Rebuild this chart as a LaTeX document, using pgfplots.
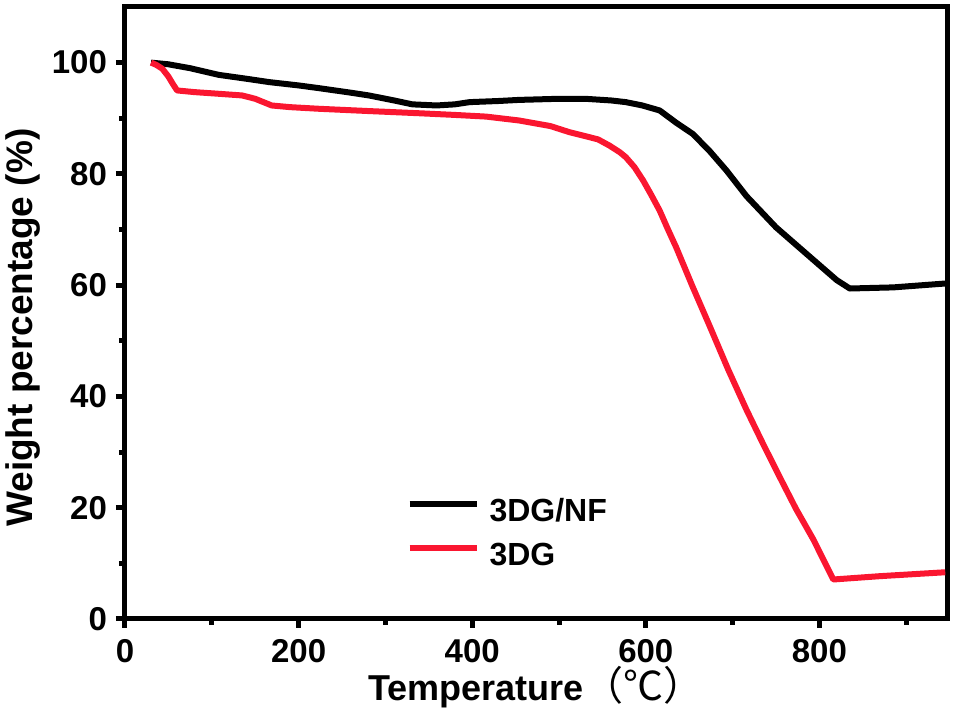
\documentclass[border=0pt]{standalone}
\usepackage{pgfplots}
\pgfplotsset{compat=1.18}
\usepackage{fontspec}
\setmainfont{Liberation Sans}
\newfontfamily\cjk{Noto Sans CJK SC}
\definecolor{myred}{RGB}{250,22,48}
\begin{document}
\begin{tikzpicture}
\begin{axis}[
  scale only axis,
  width=411pt, height=306pt,
  xmin=0, xmax=947, ymin=0, ymax=110,
  xtick={0,200,...,800}, ytick={0,20,...,100},
  minor xtick={100,300,...,900}, minor ytick={10,30,...,90},
  tick pos=left,
  tick align=outside,
  major tick length=4.5pt, minor tick length=3pt,
  every tick/.style={line width=2.5pt, black},
  axis line style={line width=2.5pt},
  /pgf/number format/assume math mode=true,
  ticklabel style={font=\fontsize{16.5}{18}\selectfont\bfseries},
  xticklabel style={yshift=-2pt},
  yticklabel style={xshift=-1pt},
  xlabel={{\fontsize{18}{20}\selectfont\bfseries Temperature}{\cjk\fontsize{20}{20}\selectfont （℃）}},
  ylabel={\textbf{Weight percentage (\%)}},
  ylabel style={font=\fontsize{18.5}{20}\selectfont},
  xlabel style={at={(rel axis cs:0.5,0)}, anchor=base, yshift=-41pt},
  ylabel style={at={(rel axis cs:0,0.476)}, anchor=base, yshift=46pt},
  legend style={draw=none, fill=none, at={(axis cs:317,22.6)}, anchor=north west,
    font=\fontsize{16}{18}\selectfont\bfseries,
    nodes={inner sep=0pt, text height=12pt, text depth=3pt},
    row sep=7pt, column sep=5pt},
  legend cell align=left,
  legend image code/.code={\draw[#1] (0pt,4.5pt) -- (33.5pt,4.5pt);},
  clip=false,
]
\addplot[black, line width=3pt, line join=round] coordinates {
(30,100) (50,99.7) (75,99.0) (108,97.8) (140,97.1) (166,96.5) (200,95.9) (224,95.4)
(260,94.6) (281,94.1) (310,93.2) (331,92.5) (359,92.3) (380,92.5) (397,92.9) (430,93.1)
(454,93.3) (500,93.5) (530,93.5) (560,93.2) (577,92.9) (596,92.3) (616,91.4) (635,89.2)
(654,87.2) (673,84.2) (693,80.6) (716,76.0) (750,70.4) (789,65.1) (820,60.9) (835,59.4)
(885,59.6) (945,60.3)
};
\addlegendentry{3DG/NF}
\addplot[myred, line width=3pt, line join=round] coordinates {
(30,100) (36,99.6) (43,98.9) (50,97.5) (55,96.2) (60,95.0) (80,94.7) (108,94.4) (135,94.1)
(150,93.5) (169,92.3) (190,92.0) (224,91.7) (280,91.3) (339,90.9) (380,90.6) (416,90.3)
(454,89.6) (490,88.6) (512,87.5) (530,86.8) (545,86.2) (558,85.1) (570,83.9) (577,83.0)
(587,81.2) (597,78.8) (606,76.3) (616,73.4) (625,70.2) (635,66.8) (654,59.7) (674,52.5)
(695,44.8) (716,37.6) (735,31.5) (754,25.6) (773,19.8) (793,14.3) (816,7.1)
(870,7.7) (945,8.4)
};
\addlegendentry{3DG}
\end{axis}
\pgfresetboundingbox
\useasboundingbox (-62.5pt,-48.5pt) rectangle (414.5pt,309.5pt);
\end{tikzpicture}
\end{document}
